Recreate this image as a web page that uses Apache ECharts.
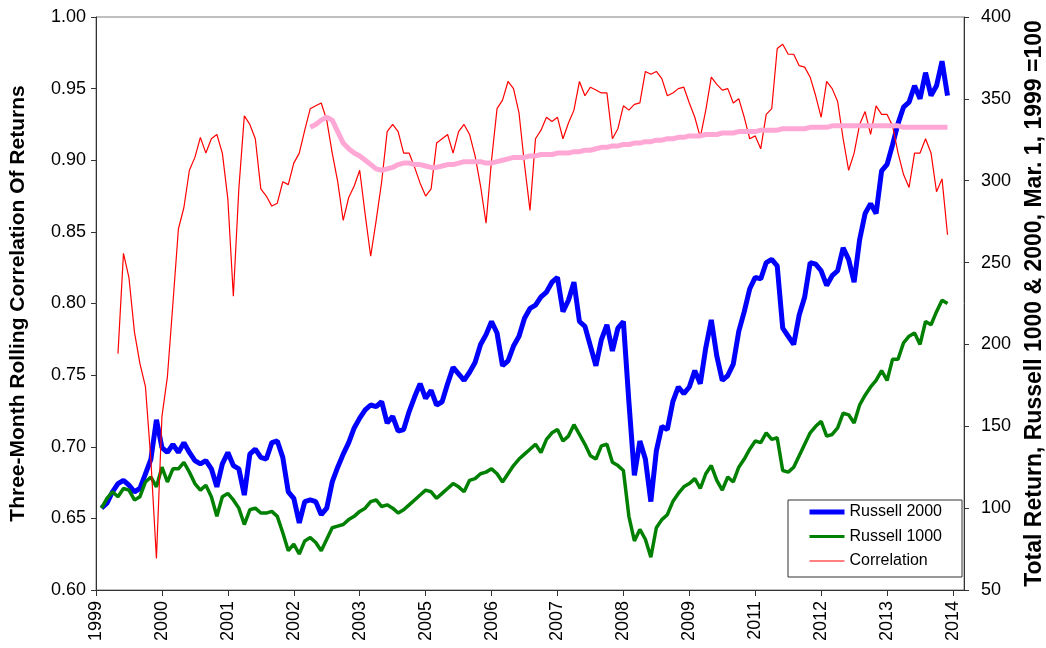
<!DOCTYPE html>
<html>
<head>
<meta charset="utf-8">
<script src="https://cdn.jsdelivr.net/npm/echarts@6/dist/echarts.min.js"></script>
<style>
html,body{margin:0;padding:0;background:#fff;}
#chart{width:1046px;height:648px;}
</style>
</head>
<body>
<div id="chart"></div>
<script>
// x-axis: uniform sample points, 12 per labelled tick
const xTickLabels = ['1999','2000','2001','2002','2003','2005','2006','2007','2008','2009','2011','2012','2013','2014'];
const pointsPerTick = 12;
const pointCount = 159;

// Russell 2000 total return (Mar. 1, 1999 = 100), right axis; starts at point 1
const russell2000Start = 1;
const russell2000 = [
100,103,110,115,117,114,110,112,121,130,
154,137,134,139,134,140,134,129,127,129,
124,113,127,134,126,124,108,133,136,131,
130,140,141,131,110,106,91,104,105,104,
96,100,116,125,133,140,149,155,160,163,
162,165,152,156,147,148,159,168,176,167,
172,163,165,176,186,182,178,183,189,200,
206,214,207,187,190,199,205,216,222,224,
229,232,238,241,220,227,238,214,211,199,
187,203,212,196,210,214,165,120,141,130,
104,135,150,148,165,174,170,174,184,176,
198,215,193,178,181,188,208,220,234,241,
240,250,252,248,210,205,200,218,229,250,
249,245,236,242,245,259,252,238,264,280,
286,280,306,310,322,335,345,348,358,350,
366,352,358,373,352];

// Russell 1000 total return, right axis; starts at point 1
const russell1000Start = 1;
const russell1000 = [
100,106,110,107,112,111,105,107,116,119,
113,125,116,124,124,128,122,115,111,114,
107,95,107,109,105,100,90,99,100,97,
97,98,95,85,74,78,72,80,82,79,
74,81,88,89,90,93,95,98,100,104,
105,101,102,100,97,99,102,105,108,111,
110,106,109,112,115,113,110,117,118,121,
122,124,121,116,121,126,130,133,136,139,
134,142,146,148,141,144,151,145,139,132,
130,138,139,128,126,123,95,80,87,81,
70,88,93,96,104,109,113,115,118,112,
121,126,117,111,119,116,125,130,136,141,
140,146,142,143,123,122,125,132,139,146,
150,153,144,145,149,158,157,152,163,169,
174,178,184,178,191,191,201,205,207,200,
214,212,220,227,225];

// Three-month rolling correlation, left axis; starts at point 4
const correlationStart = 4;
const correlation = [
0.765,0.835,0.818,0.780,0.758,0.742,0.690,
0.622,0.721,0.749,0.800,0.852,0.867,0.893,0.902,0.916,0.905,
0.915,0.918,0.905,0.873,0.805,0.880,0.931,0.925,0.915,0.880,
0.875,0.868,0.870,0.885,0.883,0.898,0.905,0.921,0.936,0.938,
0.940,0.928,0.905,0.885,0.858,0.874,0.882,0.893,0.862,0.833,
0.858,0.885,0.920,0.925,0.920,0.905,0.905,0.895,0.884,0.875,
0.880,0.912,0.915,0.918,0.905,0.920,0.925,0.918,0.903,0.882,
0.856,0.900,0.936,0.942,0.955,0.950,0.933,0.897,0.865,0.915,
0.921,0.930,0.927,0.930,0.915,0.926,0.935,0.955,0.945,0.951,
0.949,0.947,0.947,0.915,0.922,0.938,0.935,0.939,0.940,0.962,
0.960,0.962,0.957,0.945,0.947,0.950,0.951,0.940,0.930,0.916,
0.935,0.958,0.953,0.949,0.950,0.940,0.943,0.930,0.915,0.917,
0.908,0.932,0.936,0.978,0.981,0.974,0.974,0.966,0.965,0.958,
0.945,0.930,0.955,0.950,0.941,0.915,0.893,0.905,0.925,0.934,
0.918,0.938,0.932,0.932,0.924,0.905,0.890,0.881,0.905,0.905,
0.915,0.905,0.878,0.887,0.848];

// Long-run average of the correlation (pink line), left axis; starts at point 39
const corrAverageStart = 39;
const corrAverage = [
0.923,0.925,0.928,0.930,0.928,0.920,0.912,0.908,0.905,0.903,0.900,
0.897,0.894,0.893,0.894,0.895,0.897,0.898,0.898,0.897,0.897,
0.896,0.895,0.895,0.896,0.897,0.897,0.898,0.899,0.899,0.899,
0.899,0.898,0.898,0.899,0.900,0.901,0.902,0.902,0.902,0.903,
0.903,0.904,0.904,0.904,0.905,0.905,0.905,0.906,0.906,0.907,
0.907,0.908,0.909,0.909,0.910,0.910,0.911,0.911,0.912,0.912,
0.913,0.913,0.914,0.914,0.915,0.915,0.916,0.916,0.917,0.917,
0.917,0.918,0.918,0.918,0.919,0.919,0.919,0.920,0.920,0.920,
0.920,0.921,0.921,0.921,0.921,0.922,0.922,0.922,0.922,0.922,
0.923,0.923,0.923,0.923,0.924,0.924,0.924,0.924,0.924,0.924,
0.924,0.924,0.924,0.924,0.924,0.924,0.924,0.923,0.923,0.923,
0.923,0.923,0.923,0.923,0.923,0.923];

function pad(start, arr){ return Array(start).fill(null).concat(arr); }
const categories = Array.from({length: pointCount}, (_, i) => String(i));

const FONT = 'Liberation Sans, Arial, sans-serif';
const chart = echarts.init(document.getElementById('chart'), null, {renderer: 'canvas'});
chart.setOption({
  animation: false,
  backgroundColor: '#ffffff',
  grid: {left: 96, right: 82, top: 17, bottom: 58, containLabel: false, outerBoundsMode: 'none',
    show: true, borderColor: '#808080', borderWidth: 1, backgroundColor: 'transparent'},
  legend: {
    orient: 'vertical', left: 788, top: 500,
    data: [
      {name: 'Russell 2000', lineStyle: {width: 5, color: '#0000FF'}},
      {name: 'Russell 1000', lineStyle: {width: 3, color: '#008000'}},
      {name: 'Correlation', lineStyle: {width: 1, color: '#FF0000'}}
    ],
    itemWidth: 35, itemHeight: 16, itemGap: 8.5,
    padding: [4, 20, 8, 19],
    itemStyle: {opacity: 0},
    borderColor: '#333', borderWidth: 1, backgroundColor: '#fff',
    textStyle: {fontFamily: FONT, fontSize: 16, lineHeight: 16, color: '#000'}
  },
  xAxis: {
    type: 'category', boundaryGap: false, data: categories,
    axisLine: {lineStyle: {color: '#333', width: 1}},
    axisTick: {show: true, interval: pointsPerTick - 1, length: 6, lineStyle: {color: '#333'}},
    axisLabel: {
      interval: pointsPerTick - 1, rotate: 90, margin: 11,
      fontFamily: FONT, fontSize: 18, color: '#000',
      formatter: function (v) { const i = +v; return i % pointsPerTick === 0 ? xTickLabels[i / pointsPerTick] : ''; }
    },
    splitLine: {show: false}
  },
  yAxis: [
    {
      type: 'value', min: 0.6, max: 1.0, interval: 0.05, position: 'left',
      name: 'Three-Month Rolling Correlation Of Returns', nameLocation: 'middle', nameRotate: 90, nameGap: 67,
      nameTextStyle: {fontFamily: FONT, fontSize: 21, fontWeight: 'bold', color: '#000'},
      axisLine: {show: true, lineStyle: {color: '#333'}},
      axisTick: {show: true, length: 5, lineStyle: {color: '#333'}},
      axisLabel: {fontFamily: FONT, fontSize: 18, color: '#000', margin: 10, formatter: v => v.toFixed(2)},
      splitLine: {show: false}
    },
    {
      type: 'value', min: 50, max: 400, interval: 50, position: 'right',
      name: 'Total Return, Russell 1000 & 2000, Mar. 1, 1999 =100', nameLocation: 'middle', nameRotate: 90, nameGap: 59,
      nameTextStyle: {fontFamily: FONT, fontSize: 23, fontWeight: 'bold', color: '#000'},
      axisLine: {show: true, lineStyle: {color: '#333'}},
      axisTick: {show: true, length: 5, lineStyle: {color: '#333'}},
      axisLabel: {fontFamily: FONT, fontSize: 18, color: '#000', margin: 17},
      splitLine: {show: false}
    }
  ],
  series: [
    {name: 'Russell 2000', type: 'line', yAxisIndex: 1, data: pad(russell2000Start, russell2000), showSymbol: false, symbol: 'none',
      lineStyle: {color: '#0000FF', width: 5}, itemStyle: {color: '#0000FF'}, z: 2},
    {name: 'Russell 1000', type: 'line', yAxisIndex: 1, data: pad(russell1000Start, russell1000), showSymbol: false, symbol: 'none',
      lineStyle: {color: '#008000', width: 3.5}, itemStyle: {color: '#008000'}, z: 3},
    {name: 'Correlation', type: 'line', yAxisIndex: 0, data: pad(correlationStart, correlation), showSymbol: false, symbol: 'none',
      lineStyle: {color: '#FF0000', width: 1.2}, itemStyle: {color: '#FF0000'}, z: 4},
    {name: 'Average', type: 'line', yAxisIndex: 0, data: pad(corrAverageStart, corrAverage), showSymbol: false, symbol: 'none',
      lineStyle: {color: '#FFA8D6', width: 5}, itemStyle: {color: '#FFA8D6'}, z: 5}
  ]
});
</script>
</body>
</html>
